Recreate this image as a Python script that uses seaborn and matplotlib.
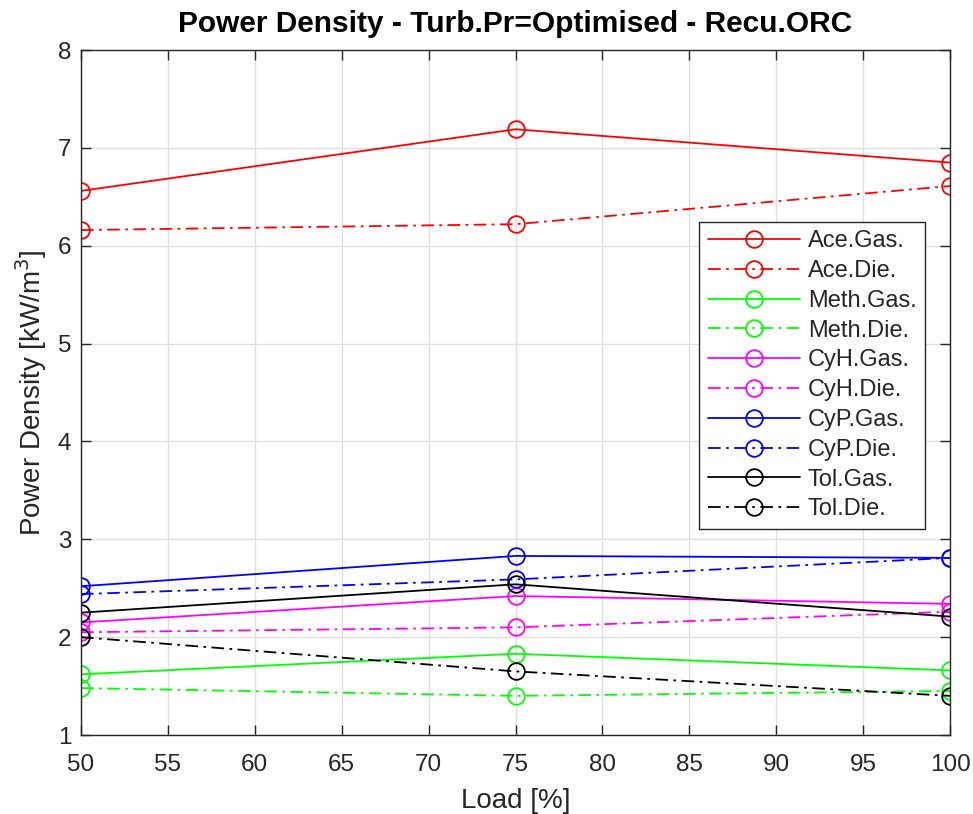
import matplotlib
matplotlib.use("Agg")
import matplotlib.pyplot as plt
import seaborn as sns
import pandas as pd

load = [50, 75, 100]
series_names = ["Ace.Gas.", "Ace.Die.", "Meth.Gas.", "Meth.Die.", "CyH.Gas.",
                "CyH.Die.", "CyP.Gas.", "CyP.Die.", "Tol.Gas.", "Tol.Die."]
ace_gas = [6.56, 7.19, 6.85]
ace_die = [6.16, 6.22, 6.61]
meth_gas = [1.62, 1.83, 1.66]
meth_die = [1.48, 1.40, 1.45]
cyh_gas = [2.15, 2.42, 2.34]
cyh_die = [2.05, 2.10, 2.26]
cyp_gas = [2.52, 2.83, 2.81]
cyp_die = [2.44, 2.59, 2.81]
tol_gas = [2.25, 2.54, 2.21]
tol_die = [2.00, 1.65, 1.40]
values = [ace_gas, ace_die, meth_gas, meth_die, cyh_gas, cyh_die,
          cyp_gas, cyp_die, tol_gas, tol_die]
colors = ["#ff0000", "#ff0000", "#00ff00", "#00ff00", "#ff00ff", "#ff00ff",
          "#0000ff", "#0000ff", "#000000", "#000000"]
styles = ["-", (0, (7, 3, 1.5, 3))] * 5

sns.set_theme(style="white")
plt.rcParams['font.family'] = ['Liberation Sans', 'DejaVu Sans']

fig = plt.figure(figsize=(9.73, 8.14), dpi=100)
ax = fig.add_axes([81/973, 1-735/814, (950-81)/973, (735-50)/814])

for name, vals, c, ls in zip(series_names, values, colors, styles):
    df = pd.DataFrame({"Load": load, "PD": vals})
    sns.lineplot(data=df, x="Load", y="PD", ax=ax, color=c, linestyle=ls,
                 linewidth=1.3, marker="o", markersize=12,
                 markerfacecolor="none", markeredgecolor=c, markeredgewidth=1.3,
                 label=name)

ax.set_xlim(50, 100)
ax.set_ylim(1, 8)
ax.set_xticks(range(50, 101, 5))
ax.set_yticks(range(1, 9))
ax.grid(True, color="#dfdfdf", linewidth=1.0)
ax.set_axisbelow(True)
for s in ax.spines.values():
    s.set_color("#262626")
    s.set_linewidth(1.0)
ax.tick_params(axis="both", which="both", direction="in", length=7, width=1,
               color="#262626", labelsize=17.5, labelcolor="#262626",
               top=True, right=True, bottom=True, left=True)
ax.tick_params(axis="x", pad=14)
ax.tick_params(axis="y", pad=7)
ax.set_xlabel("Load [%]", fontsize=20, color="#262626", labelpad=8)
ax.set_ylabel("Power Density [kW/m$^3$]", fontsize=20, color="#262626", labelpad=6)
ax.set_title("Power Density - Turb.Pr=Optimised - Recu.ORC", fontsize=21.5,
             fontweight="bold", color="#000000", pad=13)

leg = ax.legend(loc="upper right", bbox_to_anchor=(925/973, 1-222/814),
                bbox_transform=fig.transFigure, fontsize=17, frameon=True,
                fancybox=False, edgecolor="#262626", framealpha=1,
                handlelength=3.9, labelspacing=0.33, borderpad=0.35,
                handletextpad=0.35, borderaxespad=0)
leg.get_frame().set_linewidth(1.0)

fig.savefig("out.png", dpi=100)
